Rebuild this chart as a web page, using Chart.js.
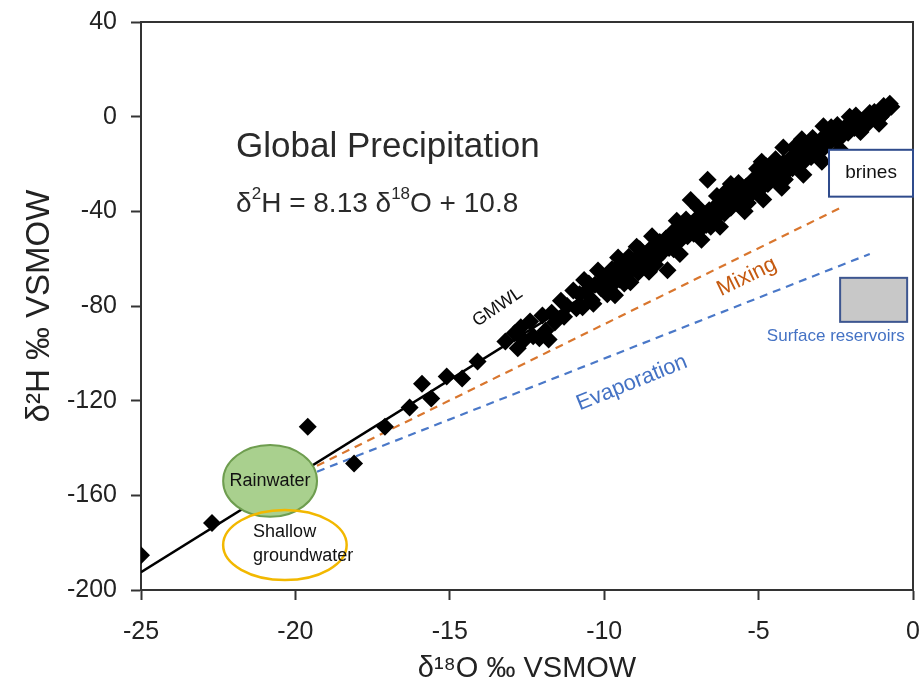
<!DOCTYPE html>
<html><head><meta charset="utf-8">
<script src="https://cdn.jsdelivr.net/npm/chart.js@4/dist/chart.umd.min.js"></script>
<style>html,body{margin:0;padding:0;background:#fff}#wrap{width:924px;height:688px}</style>
</head><body><div id="wrap"><canvas id="c" width="924" height="688"></canvas></div>
<script>
// ---- data ----
const xTickValues = [-25, -20, -15, -10, -5, 0];
const yTickValues = [-200, -160, -120, -80, -40, 0, 40];

const sampleO18 = [
 -25, -22.7, -19.6, -18.1, -17.1, -16.3, -15.9, -15.6, -15.1, -14.6, -14.1,
 -13.2, -12.9, -12.8, -12.7, -12.6, -12.4, -12.3, -12.1, -12.0, -11.9, -11.8, -11.7, -11.6, -11.4, -11.3, -11.2,
 -11.0, -10.9, -10.7, -10.6, -10.5, -10.4, -10.2, -10.1, -10.0, -9.9, -9.8, -9.7, -9.6, -9.5, -9.4, -9.3,
 -9.2, -9.1, -9.0, -8.9, -8.8, -8.7, -8.6, -8.5, -8.4, -8.3, -8.2, -8.1, -7.95, -8.0, -7.9, -7.8,
 -7.7, -7.6, -7.5, -7.4, -7.3, -7.2, -7.2, -7.1, -7.0, -6.9, -6.8, -6.65, -6.7, -6.6, -6.5, -6.4,
 -6.3, -6.2, -6.1, -6.0, -5.9, -5.8, -5.7, -5.6, -5.5, -5.4, -5.3, -5.2, -5.1, -5.0, -4.9, -4.8,
 -4.7, -4.6, -4.5, -4.4, -4.3, -4.2, -4.1, -4.0, -3.9, -3.8, -3.7, -3.6, -3.5, -3.4, -3.3, -3.2,
 -3.1, -3.0, -2.9, -2.8, -2.7, -2.6, -2.5, -2.4, -2.3, -2.2, -2.1, -2.0, -1.9, -1.8, -1.7, -1.5,
 -1.4, -1.2, -1.1, -1.0, -0.8, -0.7,
 -10.8, -10.3, -9.85, -9.45, -9.05, -8.65, -8.25, -7.85, -7.45, -7.05, -6.75, -6.45, -6.15, -5.85,
 -5.55, -5.25, -4.95, -4.65, -4.35, -4.05, -3.75, -3.45, -3.15, -2.85, -2.55, -2.25, -1.95, -1.65, -1.3,
 -9.55, -8.95, -8.45, -7.65, -6.95, -6.35, -5.65, -5.05, -4.45, -3.85, -3.25, -2.65, -2.05,
 -9.65, -9.15, -8.55, -7.55, -6.85, -6.25, -5.45, -4.85, -4.25, -3.55, -2.95, -2.35,
 -4.9, -4.2, -3.6, -5.9, -2.9, -0.75, -0.9, -1.25,
 -10.65, -10.35, -9.75, -9.35, -8.85, -8.35, -7.75, -7.35, -6.55, -6.05, -5.35, -4.75, -4.15, -3.35,
 -3.05, -2.45, -1.85, -1.55, -1.05, -0.95
];
const sampleH2 = [
 -185.3, -171.7, -131.0, -146.6, -131.0, -122.9, -112.8, -119.1, -109.8, -110.6, -103.4,
 -95.0, -91.5, -97.8, -89.0, -94.5, -86.5, -92.8, -93.6, -84.0, -90.5, -94.2, -82.8, -87.0, -77.8, -84.5, -80.0,
 -73.4, -81.0, -80.5, -74.0, -70.5, -77.5, -65.0, -72.5, -69.0, -75.0, -66.5, -70.6, -64.0, -68.8, -61.8, -66.9,
 -59.2, -64.5, -60.5, -65.8, -58.0, -63.2, -57.5, -61.0, -54.5, -59.8, -53.0, -57.2, -64.9, -51.5, -55.5, -49.0,
 -53.5, -47.5, -51.8, -46.0, -50.5, -35.2, -45.5, -49.5, -43.0, -47.8, -41.0, -26.7, -45.8, -39.5, -43.0, -38.0,
 -41.5, -35.8, -40.8, -34.2, -38.5, -32.5, -36.5, -30.8, -35.0, -29.5, -33.5, -27.0, -31.5, -25.8, -30.0, -24.5,
 -28.5, -23.0, -26.2, -20.8, -25.5, -19.5, -23.5, -18.0, -21.8, -16.0, -20.0, -14.8, -18.5, -13.0, -17.0, -11.5,
 -15.2, -10.0, -13.5, -9.0, -11.0, -7.0, -9.5, -6.0, -8.2, -4.5, -6.8, -3.2, -4.8, -1.5, -6.5, -1.0,
 1.5, -0.5, -3.0, 2.5, 3.8, 4.2,
 -75.0, -71.0, -71.5, -66.0, -62.8, -60.5, -56.5, -52.0, -48.8, -46.0, -42.8, -40.5, -37.5, -35.5,
 -33.0, -30.5, -27.8, -25.5, -22.8, -20.5, -18.0, -15.5, -13.0, -11.0, -8.5, -6.0, -3.8, -1.8, 0.5,
 -59.5, -55.0, -50.5, -44.0, -38.5, -33.5, -28.0, -22.0, -18.0, -13.0, -9.0, -4.5, 0.0,
 -75.5, -70.0, -65.5, -58.0, -52.0, -46.5, -40.0, -35.0, -30.0, -24.5, -19.0, -14.0,
 -19.0, -13.0, -9.5, -28.5, -4.0, 5.5, 2.0, 2.0,
 -69.0, -79.0, -64.5, -70.5, -56.0, -62.5, -56.0, -43.5, -46.5, -31.5, -36.5, -21.0, -26.5, -11.0,
 -17.5, -3.5, 0.5, -4.0, 0.0, 4.5
];
// GMWL  δ2H = 8.13 δ18O + 10.8 (end points)
const gmwlO18 = [-25, -1];
const gmwlH2 = [-192.45, 2.67];
// Mixing and evaporation trend lines (end points)
const mixingO18 = [-19.3, -2.3];
const mixingH2 = [-147.5, -38.2];
const evapO18 = [-19.3, -1.4];
const evapH2 = [-150.0, -58.0];

const pts = (xs, ys) => xs.map((v, i) => ({x: v, y: ys[i]}));
const FONT = "'Liberation Sans', Arial, Helvetica, sans-serif";
const AXIS = '#333333';

function drawRuns(ctx, x, y, runs, size) {
  let cx = x;
  for (const r of runs) {
    const s = r.sup ? Math.round(size * 0.62) : size;
    ctx.font = s + 'px ' + FONT;
    ctx.fillText(r.t, cx, r.sup ? y - size * 0.38 : y);
    cx += ctx.measureText(r.t).width;
  }
}

const annot = {
  id: 'annot',
  afterDatasetsDraw(chart) {
    const {ctx, scales: {x, y}, chartArea: ca} = chart;
    const X = v => x.getPixelForValue(v), Y = v => y.getPixelForValue(v);
    ctx.save();
    ctx.strokeStyle = AXIS; ctx.lineWidth = 2;
    ctx.beginPath();
    ctx.moveTo(ca.left, ca.top); ctx.lineTo(ca.right, ca.top); ctx.lineTo(ca.right, ca.bottom);
    ctx.stroke();

    const ell = (cxv, cyv, rxv, ryv) => {
      ctx.beginPath();
      ctx.ellipse(X(cxv), Y(cyv), Math.abs(X(cxv + rxv) - X(cxv)), Math.abs(Y(cyv + ryv) - Y(cyv)), 0, 0, Math.PI * 2);
    };
    ell(-20.82, -153.9, 1.52, 15.2);
    ctx.fillStyle = '#a9d08e'; ctx.fill();
    ctx.strokeStyle = '#6e9d4f'; ctx.lineWidth = 2; ctx.stroke();
    ell(-20.34, -181.0, 2.0, 14.8);
    ctx.strokeStyle = '#f2b800'; ctx.lineWidth = 2.5; ctx.stroke();

    ctx.fillStyle = '#111';
    ctx.textBaseline = 'middle';
    ctx.textAlign = 'center';
    ctx.font = '18px ' + FONT;
    ctx.fillText('Rainwater', X(-20.82), Y(-153.9));
    ctx.textAlign = 'left';
    ctx.fillText('Shallow', X(-21.37), Y(-175.5));
    ctx.fillText('groundwater', X(-21.37), Y(-185.8));

    ctx.fillStyle = '#fff';
    const bx0 = X(-2.72), bx1 = X(0), by0 = Y(-14), by1 = Y(-33.8);
    ctx.fillRect(bx0, by0, bx1 - bx0, by1 - by0);
    ctx.strokeStyle = '#2f4b8c'; ctx.lineWidth = 2;
    ctx.strokeRect(bx0, by0, bx1 - bx0, by1 - by0);
    ctx.fillStyle = '#111'; ctx.textAlign = 'center';
    ctx.font = '19px ' + FONT;
    ctx.fillText('brines', (bx0 + bx1) / 2, (by0 + by1) / 2);

    const gx0 = X(-2.36), gx1 = X(-0.19), gy0 = Y(-68.1), gy1 = Y(-86.7);
    ctx.fillStyle = '#c8c8c8';
    ctx.fillRect(gx0, gy0, gx1 - gx0, gy1 - gy0);
    ctx.strokeStyle = '#3d5690'; ctx.lineWidth = 2;
    ctx.strokeRect(gx0, gy0, gx1 - gx0, gy1 - gy0);
    ctx.fillStyle = '#4472c4'; ctx.font = '17px ' + FONT;
    ctx.fillText('Surface reservoirs', X(-2.5), Y(-93));

    const rot = (txt, xv, yv, deg, color, size) => {
      ctx.save();
      ctx.translate(X(xv), Y(yv));
      ctx.rotate(deg * Math.PI / 180);
      ctx.fillStyle = color; ctx.font = size + 'px ' + FONT;
      ctx.textAlign = 'center'; ctx.textBaseline = 'middle';
      ctx.fillText(txt, 0, 0);
      ctx.restore();
    };
    rot('GMWL', -13.45, -80.5, -34, '#111', 18);
    rot('Mixing', -5.38, -67.7, -26, '#c55a11', 22);
    rot('Evaporation', -9.1, -112.5, -22, '#4472c4', 22);

    ctx.fillStyle = '#2a2a2a';
    ctx.textAlign = 'left'; ctx.textBaseline = 'middle';
    ctx.font = '35px ' + FONT;
    ctx.fillText('Global Precipitation', X(-21.92), Y(-13.1));
    drawRuns(ctx, X(-21.92), Y(-37.2), [
      {t: 'δ'}, {t: '2', sup: true}, {t: 'H = 8.13 δ'}, {t: '18', sup: true}, {t: 'O + 10.8'}
    ], 28);
    ctx.restore();
  }
};

new Chart(document.getElementById('c'), {
  type: 'scatter',
  data: {
    datasets: [
      {label: 'Samples', data: pts(sampleO18, sampleH2), pointStyle: 'rectRot', pointRadius: 9,
       pointHoverRadius: 9, backgroundColor: '#000', borderColor: '#000', borderWidth: 0, order: 0},
      {label: 'GMWL', type: 'line', data: pts(gmwlO18, gmwlH2), borderColor: '#000', borderWidth: 2.5,
       pointRadius: 0, fill: false, order: 1},
      {label: 'Mixing', type: 'line', data: pts(mixingO18, mixingH2), borderColor: '#d9762e', borderWidth: 2.2,
       borderDash: [8, 6], pointRadius: 0, fill: false, order: 2},
      {label: 'Evaporation', type: 'line', data: pts(evapO18, evapH2), borderColor: '#4a78c8', borderWidth: 2.2,
       borderDash: [8, 6], pointRadius: 0, fill: false, order: 3}
    ]
  },
  options: {
    responsive: false, animation: false, devicePixelRatio: 1,
    layout: {padding: {top: 22, right: 11, left: 0, bottom: 0}},
    plugins: {legend: {display: false}, tooltip: {enabled: false}},
    scales: {
      x: {
        type: 'linear', min: -25, max: 0,
        afterBuildTicks: s => { s.ticks = xTickValues.map(v => ({value: v})); },
        afterFit: s => { s.height = 98; s.paddingLeft = 0; s.paddingRight = 0; },
        grid: {display: true, drawOnChartArea: false, drawTicks: true, tickLength: 10, tickColor: AXIS, tickWidth: 2},
        border: {display: true, color: AXIS, width: 2},
        ticks: {color: '#222', font: {family: FONT, size: 25}, padding: 17, maxRotation: 0},
        title: {display: true, text: 'δ¹⁸O ‰ VSMOW', color: '#222', font: {family: FONT, size: 29}, padding: {top: 0, bottom: 2}}
      },
      y: {
        type: 'linear', min: -200, max: 40,
        afterBuildTicks: s => { s.ticks = yTickValues.map(v => ({value: v})); },
        afterFit: s => { s.width = 141; s.paddingTop = 0; s.paddingBottom = 0; },
        grid: {display: true, drawOnChartArea: false, drawTicks: true, tickLength: 10, tickColor: AXIS, tickWidth: 2},
        border: {display: true, color: AXIS, width: 2},
        ticks: {color: '#222', font: {family: FONT, size: 25}, padding: 14},
        title: {display: true, text: 'δ²H ‰ VSMOW', color: '#222', font: {family: FONT, size: 33}, padding: {top: 20, bottom: 0}}
      }
    }
  },
  plugins: [annot]
});
</script></body></html>
